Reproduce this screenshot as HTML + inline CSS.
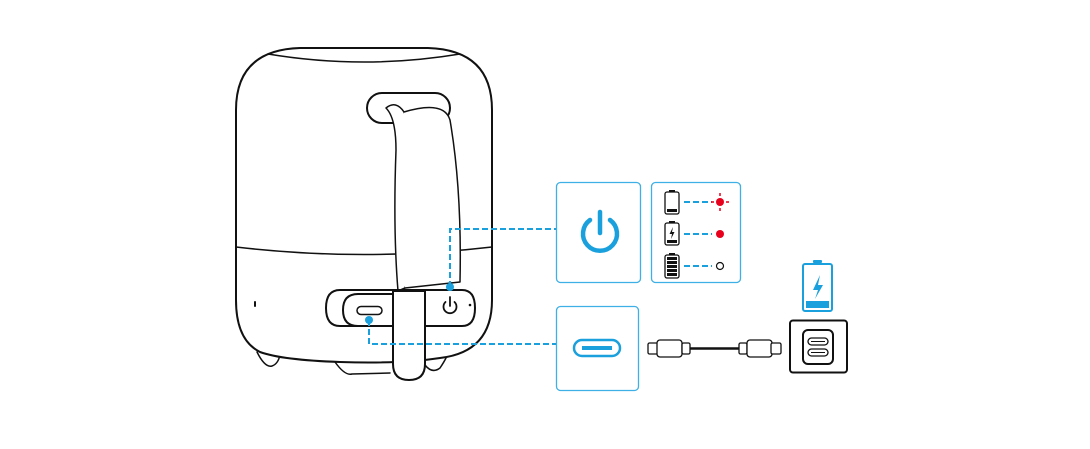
<!DOCTYPE html>
<html><head><style>html,body{margin:0;padding:0;background:#fff}svg{display:block}</style></head>
<body>
<svg width="1090" height="449" viewBox="0 0 1090 449" xmlns="http://www.w3.org/2000/svg">
<g fill="none" stroke="#111" stroke-width="2" stroke-linejoin="round" stroke-linecap="round">
<!-- feet -->
<path d="M257 352 Q265 368 272 366 Q278 364 280 355" fill="#fff" stroke-width="1.5"/>
<path d="M335 362 Q345 376 352 374 L390 373" fill="#fff" stroke-width="1.5"/>
<path d="M425 365 Q432 374 440 368 Q444 362 446 358" fill="#fff" stroke-width="1.5"/>
<!-- body -->
<path d="M300 48 L428 48 Q492 50 492 110 L492 300 Q492 352 440 358 Q400 364 340 362 Q282 360 260 352 Q236 340 236 300 L236 110 Q236 50 300 48 Z" fill="#fff"/>
<path d="M268 54 Q364 70 460 54" stroke-width="1.5"/>
<path d="M236 247 Q364 262 492 247" stroke-width="1.5"/>
<!-- slot -->
<rect x="367" y="93" width="83" height="30" rx="15"/>
<!-- strap upper -->
<path d="M386 108 Q396 100 404 112 Q413 130 417 160 Q424 240 405 288 L398 291 Q393 230 396 150 Q396 118 386 108 Z" fill="#fff" stroke-width="1.5"/>
<path d="M404 112 Q444 100 450 120 Q462 190 460 282 L405 288" fill="#fff" stroke-width="1.5"/>
<line x1="255" y1="302" x2="255" y2="306" stroke-width="2"/>
<!-- panel -->
<path d="M340 290 L462 290 Q475 290 475 308 Q475 326 462 326 L340 326 Q326 326 326 308 Q326 290 340 290 Z" fill="#fff"/>
<path d="M358 294 L393 294 L393 326 L358 326 Q343 326 343 310 Q343 294 358 294 Z" fill="#fff"/>
<rect x="357" y="306.5" width="25" height="8" rx="4" stroke-width="1.5"/>
<path d="M445.5 302 A6.5 6.5 0 1 0 454.5 302" stroke-width="1.8"/>
<line x1="450" y1="297" x2="450" y2="306" stroke-width="1.8"/>
<circle cx="470" cy="305" r="0.8" fill="#111" stroke-width="1"/>
<!-- strap lower -->
<path d="M393 291 L425 291 L425 364 Q425 380 409 380 Q393 380 393 364 Z" fill="#fff"/>
</g>
<!-- boxes -->
<g fill="#fff" stroke="#3fb0e6" stroke-width="1.3">
<rect x="556.5" y="182.5" width="84" height="100" rx="4"/>
<rect x="651.5" y="182.5" width="89" height="100" rx="4"/>
<rect x="556.5" y="306.5" width="82" height="84" rx="4"/>
</g>
<!-- dashed connectors -->
<g stroke="#1aa0dc" stroke-width="2" fill="none" stroke-dasharray="6 3">
<path d="M450 287 L450 229 L556 229"/>
<path d="M369 320 L369 344 L556 344"/>
<path d="M684 202 L712 202"/><path d="M684 234 L712 234"/><path d="M684 266 L712 266"/>
</g>
<circle cx="450" cy="287" r="4" fill="#1aa0dc"/>
<circle cx="369" cy="320" r="4" fill="#1aa0dc"/>
<!-- power icon -->
<g stroke="#1aa0dc" stroke-width="4.5" fill="none" stroke-linecap="round">
<path d="M590 220 A17 17 0 1 0 610 220"/>
<line x1="600" y1="212" x2="600" y2="233"/>
</g>
<!-- usb-c icon -->
<rect x="574" y="340" width="46" height="16" rx="8" fill="#fff" stroke="#1aa0dc" stroke-width="2.5"/>
<line x1="582" y1="348" x2="612" y2="348" stroke="#1aa0dc" stroke-width="4"/>
<!-- batteries -->
<g stroke="#111" stroke-width="1.3" fill="#fff">
<rect x="665" y="192" width="14" height="22" rx="2"/>
<rect x="665" y="223" width="14" height="22" rx="2"/>
<rect x="665" y="255" width="14" height="23" rx="2"/>
</g>
<g fill="#111">
<rect x="669" y="190" width="6" height="2"/><rect x="669" y="221" width="6" height="2"/><rect x="669" y="253" width="6" height="2"/>
<rect x="667" y="209" width="10" height="3"/>
<rect x="667" y="240" width="10" height="3"/>
<path d="M673 227 L669.5 234 L672 234 L671 239 L674.5 232 L672 232 Z"/>
<rect x="667" y="257" width="10" height="3"/><rect x="667" y="261" width="10" height="3"/><rect x="667" y="265" width="10" height="3"/><rect x="667" y="269" width="10" height="3"/><rect x="667" y="273" width="10" height="3"/>
</g>
<!-- LEDs -->
<circle cx="720" cy="202" r="4" fill="#e8001c"/>
<g stroke="#e8001c" stroke-width="1.5"><line x1="720" y1="193" x2="720" y2="196"/><line x1="720" y1="208" x2="720" y2="211"/><line x1="711" y1="202" x2="714" y2="202"/><line x1="726" y1="202" x2="729" y2="202"/></g>
<circle cx="720" cy="234" r="4" fill="#e8001c"/>
<circle cx="720" cy="266" r="3.5" fill="#fff" stroke="#111" stroke-width="1.2"/>
<!-- cable -->
<g stroke="#111" stroke-width="1.3" fill="#fff">
<rect x="648" y="343" width="10" height="11" rx="1.5"/>
<rect x="657" y="340" width="25" height="17" rx="3"/>
<rect x="682" y="343" width="8" height="11" rx="1.5"/>
<rect x="739" y="343" width="8" height="11" rx="1.5"/>
<rect x="747" y="340" width="25" height="17" rx="3"/>
<rect x="771" y="343" width="10" height="11" rx="1.5"/>
</g>
<line x1="690" y1="348.5" x2="739" y2="348.5" stroke="#111" stroke-width="2.5"/>
<!-- charger battery -->
<rect x="813" y="260" width="9" height="3" rx="1" fill="#1aa0dc"/>
<rect x="803" y="264" width="29" height="47" rx="2" fill="#fff" stroke="#1aa0dc" stroke-width="2"/>
<rect x="806" y="301" width="23" height="7" fill="#1aa0dc"/>
<path d="M820 275 L813 290 L818 290 L815 299 L823 285 L818 285 Z" fill="#1aa0dc"/>
<!-- charger -->
<rect x="790" y="320.5" width="57" height="52" rx="3" fill="#fff" stroke="#111" stroke-width="2"/>
<rect x="803" y="330" width="30" height="34" rx="5" fill="#fff" stroke="#111" stroke-width="2"/>
<rect x="808" y="338" width="20" height="7" rx="3.5" fill="#fff" stroke="#111" stroke-width="1.3"/>
<rect x="808" y="349" width="20" height="7" rx="3.5" fill="#fff" stroke="#111" stroke-width="1.3"/>
<line x1="811" y1="341.5" x2="825" y2="341.5" stroke="#111" stroke-width="1"/>
<line x1="811" y1="352.5" x2="825" y2="352.5" stroke="#111" stroke-width="1"/>
</svg>
</body></html>
